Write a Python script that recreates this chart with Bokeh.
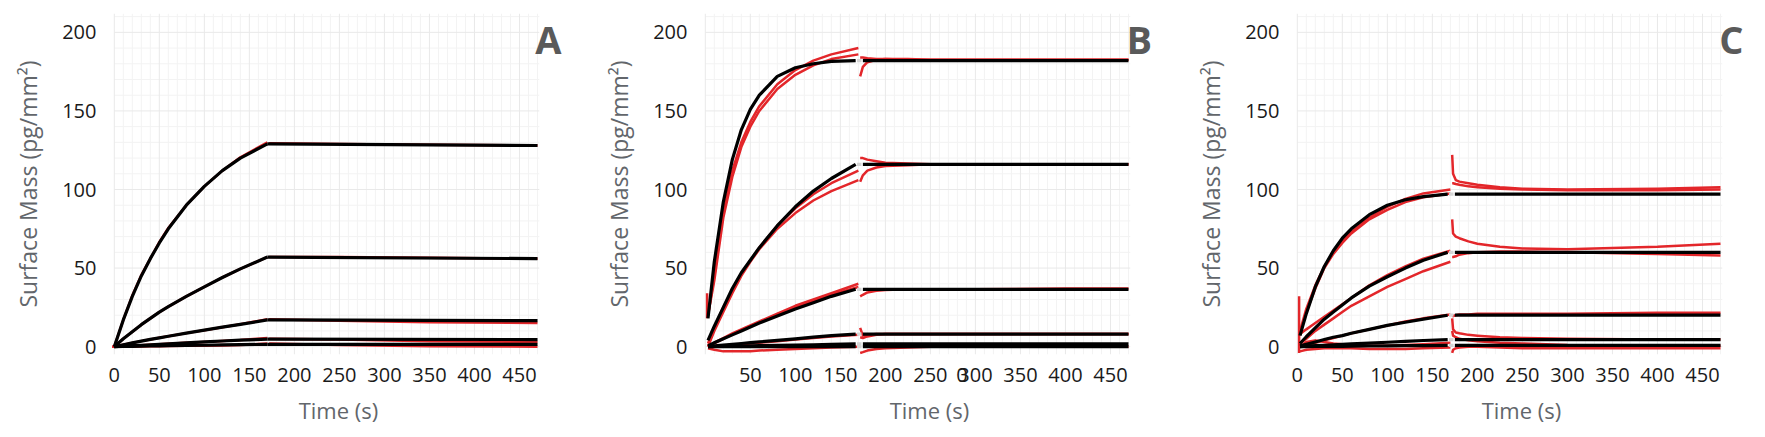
from bokeh.plotting import figure
from bokeh.layouts import row
from bokeh.models import FixedTicker, Label, Range1d
from bokeh.embed import file_html
from bokeh.resources import INLINE

# ---------------- data ----------------
Y_TICKS = [0, 50, 100, 150, 200]
X_TICKS = [0, 50, 100, 150, 200, 250, 300, 350, 400, 450]
# panel B has no "0" under the origin; a stray "0" sits near 285 s
B_X_TICKS = [50, 100, 150, 200, 250, 285, 300, 350, 400, 450]
B_X_OVERRIDES = {285: "0"}
GRID_X = list(range(0, 480, 10))
GRID_Y = list(range(0, 220, 10))
LETTERS = ["A", "B", "C"]
X_LABEL = "Time (s)"
Y_LABEL = "Surface Mass (pg/mm\u00b2)"

# Panel A
A_t_fit_assoc = [0, 10, 20, 30, 40, 50, 60, 80, 100, 120, 140, 170]
A_fit_assoc = [
    [0, 17, 32, 45, 56, 66, 75, 90, 102, 112, 120, 129],
    [0, 5, 9.5, 14, 18, 22, 25.5, 32, 38, 44, 49.5, 57],
    [0, 1.2, 2.4, 3.5, 4.6, 5.6, 6.6, 8.6, 10.5, 12.4, 14.2, 17],
    [0, 0.3, 0.6, 0.9, 1.2, 1.5, 1.8, 2.4, 3.0, 3.6, 4.1, 4.8],
    [0, 0.1, 0.2, 0.3, 0.4, 0.5, 0.6, 0.75, 0.9, 1.1, 1.25, 1.5],
]
A_t_fit_dissoc = [170, 470]
A_fit_dissoc = [[129, 128], [57, 56], [17, 16.5], [4.8, 4.5], [1.5, 1.5]]
A_t_data_assoc = [-4, 0, 10, 20, 30, 40, 50, 60, 80, 100, 120, 140, 170]
A_data_assoc = [
    [0, 0, 17, 32.5, 45.5, 56, 66.5, 75.5, 90, 102, 112, 120.5, 130],
    [0, 0, 5, 9.5, 14, 18, 22, 25.5, 32, 38, 44, 49.5, 57],
    [0, 0, 1.2, 2.4, 3.5, 4.6, 5.6, 6.6, 8.6, 10.5, 12.4, 14.2, 17.5],
    [0, 0, 0.3, 0.6, 0.9, 1.2, 1.5, 1.8, 2.4, 3.0, 3.6, 4.2, 5.5],
    [0, 0, 0, 0, 0.1, 0.2, 0.3, 0.4, 0.5, 0.6, 0.8, 1.0, 2],
]
A_t_data_dissoc = [172, 250, 350, 470]
A_data_dissoc = [
    [129.5, 129, 128.5, 128],
    [57, 57, 56.5, 56],
    [17.5, 16.5, 15.5, 15],
    [5, 4.5, 3.5, 3],
    [2, 1, 0.2, 0],
]

# Panel B
B_t_fit_assoc = [3, 10, 20, 30, 40, 50, 60, 80, 100, 120, 140, 167]
B_fit_assoc = [
    [18, 54, 92, 119, 138, 151, 160, 172, 177.5, 180, 181.5, 182],
    [4, 13, 25, 37, 47, 55, 63, 77, 89, 99, 107, 116],
    [0.5, 2.5, 5, 7.5, 10, 12.5, 15, 19.5, 24, 28, 32, 36.5],
    [0, 0.5, 1, 1.5, 2, 2.5, 3, 4, 5, 6, 7, 8],
    [0, 0.1, 0.2, 0.3, 0.4, 0.5, 0.6, 0.8, 1, 1.2, 1.4, 1.7],
    [0, 0, 0, 0, 0, 0, 0, 0, 0, 0, 0, 0],
]
B_t_fit_dissoc = [175, 470]
B_fit_dissoc = [[182, 182], [116, 116], [36.5, 36.5], [8, 8], [1.7, 1.7], [0, 0]]
B_t_data_assoc = [3, 10, 20, 30, 40, 50, 60, 80, 100, 120, 140, 170]
B_data_assoc = [
    [20, 45, 85, 112, 130, 143, 153, 167, 176, 182, 186, 190],
    [20, 42, 82, 108, 127, 140, 150, 164, 173, 179, 183, 186],
    [2, 12, 25, 36, 46, 55, 63, 77, 88, 97, 104, 112],
    [0, 10, 22, 34, 45, 54, 62, 75, 85, 93, 99, 106],
    [0, 2.5, 5.5, 8.5, 11, 13.5, 16, 21, 26, 30, 34, 40],
    [0, 2, 5, 8, 10.5, 13, 15.5, 20, 25, 29, 33, 38],
    [0, 0, 0.5, 1, 1.5, 2, 2.5, 3.5, 4.5, 5.5, 6.5, 7.5],
    [-1, -2, -3, -3, -3, -3, -2.5, -2, -1.5, -1, -0.5, 0],
]
B_t_data_dissoc = [172, 175, 180, 190, 200, 225, 250, 300, 400, 470]
B_data_dissoc = [
    [184, 184, 183.5, 183, 183, 182.5, 182.5, 182.5, 182.5, 182.5],
    [172, 178, 181, 182.5, 183, 183, 182.5, 182.5, 182.5, 182.5],
    [120, 120, 119, 118, 117, 116.5, 116, 116, 116, 116],
    [105, 109, 112, 114, 115, 115.5, 116, 116, 116, 116],
    [32, 33, 34.5, 35.5, 36, 36.5, 36.5, 36.5, 37, 37],
    [12, 7, 7.5, 8, 8, 8, 8, 8, 8, 8],
    [6, 5.5, 6.5, 7.5, 8, 8, 8, 8, 8, 8],
    [-4, -3.5, -2.5, -1.5, -1, -0.5, 0, 0, 0, 0],
]
B_spike_t = [2, 2]
B_spike_v = [18, 34]

# Panel C
C_t_fit_assoc = [3, 10, 20, 30, 40, 50, 60, 80, 100, 120, 140, 167]
C_fit_assoc = [
    [7, 21, 38, 51, 61, 69, 75, 84, 90, 93.5, 95.5, 97],
    [2, 6.3, 12, 17.5, 22, 26.5, 31, 38.5, 44.5, 50, 55, 60],
    [0.5, 1.5, 3, 4.5, 6, 7, 8.5, 11, 13.5, 15.5, 17.5, 20],
    [0, 0.3, 0.6, 0.9, 1.2, 1.4, 1.7, 2.3, 2.8, 3.4, 3.9, 4.5],
    [0, 0, 0.1, 0.1, 0.2, 0.2, 0.3, 0.4, 0.5, 0.6, 0.7, 0.8],
]
C_t_fit_dissoc = [175, 470]
C_fit_dissoc = [[97, 97], [60, 60], [20, 20], [4.5, 4.5], [0.8, 0.8]]
C_t_data_assoc = [3, 10, 20, 30, 40, 50, 60, 80, 100, 120, 140, 170]
C_data_assoc = [
    [10, 24, 39, 51, 60, 67, 73, 82, 89, 94, 97.5, 100],
    [8, 22, 37, 50, 59, 66, 72, 81, 87, 92, 95, 97.5],
    [8, 11, 15, 19, 23, 27, 31, 39, 45.5, 51, 56, 61],
    [2, 5, 10, 14, 18, 22, 26, 32, 38, 43, 48, 54],
    [0, 1, 2.5, 4, 5.5, 7, 8.5, 11, 13.5, 16, 18, 20.5],
    [0, 3, 4, 3, 2, 1.5, 1, 0.5, 0.5, 1, 1.5, 2.5],
    [-3, -2, -1.5, -1, -1, -1, -1, -1.5, -1.5, -1.5, -1, -0.5],
]
C_t_data_dissoc = [172, 173, 176, 180, 190, 200, 225, 250, 300, 400, 470]
C_data_dissoc = [
    [122, 110, 106, 105, 104, 103, 101.5, 100.5, 100, 100.5, 101.5],
    [104, 104, 103.5, 103, 102, 101.5, 100.5, 100, 99.5, 99.5, 100],
    [81, 72, 70, 69, 67, 65.5, 63.5, 62.5, 62, 63.5, 65.5],
    [57, 57, 57.5, 58.5, 59.5, 60, 60.5, 60.5, 60, 59, 58],
    [19, 19.5, 20, 20.5, 20.5, 21, 21, 21, 21, 21.5, 21.5],
    [18, 11, 9, 8.5, 7.5, 7, 6, 5.5, 5, 4.5, 4.5],
    [10, 7, 6, 5, 4, 3.5, 2.5, 2, 1, 0.5, 0.5],
    [-4, -2, -1, -0.5, 0, 0, -0.5, -1, -1, -1, -1],
]
C_spike_t = [2, 2]
C_spike_v = [-4, 32]

# ---------------- styling ----------------
RED = "#e3262a"
BLACK = "#000000"
GAP = "#d4d4d4"
TICK_FONT = "Open Sans"
FIG_WIDTHS = [591, 592, 582]
BORDER_LEFT = 112
FRAME_W = 452
HEIGHT = 429
X_MIN, X_MAX = -2, 500
Y_MIN, Y_MAX = -5, 212
GRID_X_END = 472


def make_panel(idx, x_ticks, t_fa, fa, t_fd, fd, t_da, da, t_dd, dd,
               spike_t=None, spike_v=None, gaps=False, overrides=None):
    w = FIG_WIDTHS[idx]
    p = figure(width=w, height=HEIGHT, output_backend="svg", toolbar_location=None,
               x_range=Range1d(X_MIN, X_MAX), y_range=Range1d(Y_MIN, Y_MAX),
               min_border_left=BORDER_LEFT, min_border_right=w - BORDER_LEFT - FRAME_W,
               min_border_top=13, min_border_bottom=75)
    p.outline_line_color = None
    p.background_fill_color = "white"
    p.border_fill_color = "white"
    p.xgrid.visible = False
    p.ygrid.visible = False

    # faint background grid limited to the data window
    minor_x = [g for g in GRID_X if g % 50 != 0]
    major_x = [g for g in GRID_X if g % 50 == 0]
    minor_y = [g for g in GRID_Y if g % 50 != 0]
    major_y = [g for g in GRID_Y if g % 50 == 0]
    p.segment(x0=minor_x, y0=Y_MIN, x1=minor_x, y1=Y_MAX, line_color="#f3f3f3", line_width=1)
    p.segment(x0=0, y0=minor_y, x1=GRID_X_END, y1=minor_y, line_color="#f3f3f3", line_width=1)
    p.segment(x0=major_x, y0=Y_MIN, x1=major_x, y1=Y_MAX, line_color="#e9e9e9", line_width=1)
    p.segment(x0=0, y0=major_y, x1=GRID_X_END, y1=major_y, line_color="#e9e9e9", line_width=1)

    p.xaxis.ticker = FixedTicker(ticks=x_ticks)
    p.yaxis.ticker = FixedTicker(ticks=Y_TICKS)
    if overrides:
        p.xaxis.major_label_overrides = overrides

    for ax in (p.xaxis, p.yaxis):
        ax.axis_line_color = None
        ax.major_tick_line_color = None
        ax.minor_tick_line_color = None
        ax.major_label_text_font = TICK_FONT
        ax.major_label_text_font_size = "20px"
        ax.major_label_text_color = "#1a1a1a"
        ax.axis_label_text_font = TICK_FONT
        ax.axis_label_text_font_style = "normal"
        ax.axis_label_text_color = "#62666b"

    p.xaxis.axis_label = X_LABEL
    p.xaxis.axis_label_text_font_size = "22px"
    p.xaxis.major_label_standoff = 7
    p.xaxis.axis_label_standoff = 10
    p.yaxis.axis_label = Y_LABEL
    p.yaxis.axis_label_text_font_size = "23px"
    p.yaxis.major_label_text_align = "left"
    p.yaxis.major_label_standoff = 10
    p.yaxis.axis_label_standoff = 15

    # red measured curves (under)
    for ys in da:
        p.line(t_da, ys, line_color=RED, line_width=2.5, line_join="round")
    for ys in dd:
        p.line(t_dd, ys, line_color=RED, line_width=2.5, line_join="round")
    if spike_t is not None:
        p.line(spike_t, spike_v, line_color=RED, line_width=2.5)

    # black fitted curves (over)
    for ys in fa:
        p.line(t_fa, ys, line_color=BLACK, line_width=3.2, line_join="round")
    for ys in fd:
        p.line(t_fd, ys, line_color=BLACK, line_width=3.2, line_join="round")

    if gaps:
        for ya, yd in zip(fa, fd):
            p.line([t_fa[-1] + 1.5, t_fd[0] - 1.5], [ya[-1], yd[0]],
                   line_color=GAP, line_width=3.2)

    p.add_layout(Label(x=482, y=196, text=LETTERS[idx], text_align="center",
                       text_baseline="middle", text_font=TICK_FONT,
                       text_font_size="38px", text_font_style="bold",
                       text_color="#5a5a5a"))
    return p


pA = make_panel(0, X_TICKS, A_t_fit_assoc, A_fit_assoc, A_t_fit_dissoc, A_fit_dissoc,
                A_t_data_assoc, A_data_assoc, A_t_data_dissoc, A_data_dissoc)
pB = make_panel(1, B_X_TICKS, B_t_fit_assoc, B_fit_assoc, B_t_fit_dissoc, B_fit_dissoc,
                B_t_data_assoc, B_data_assoc, B_t_data_dissoc, B_data_dissoc,
                B_spike_t, B_spike_v, gaps=True, overrides=B_X_OVERRIDES)
pC = make_panel(2, X_TICKS, C_t_fit_assoc, C_fit_assoc, C_t_fit_dissoc, C_fit_dissoc,
                C_t_data_assoc, C_data_assoc, C_t_data_dissoc, C_data_dissoc,
                C_spike_t, C_spike_v, gaps=True)

layout = row(pA, pB, pC, spacing=0)
open("out.html", "w").write(file_html(layout, INLINE))
